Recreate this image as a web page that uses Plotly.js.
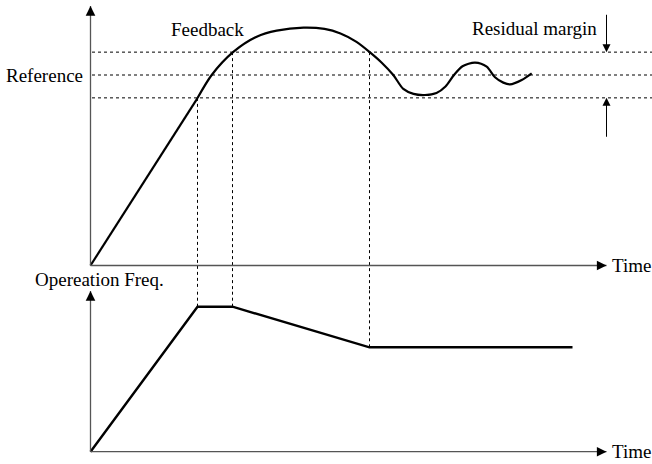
<!DOCTYPE html>
<html>
<head>
<meta charset="utf-8">
<script src="https://cdn.plot.ly/plotly-3.0.1.min.js"></script>
<style>html,body{margin:0;padding:0;background:#fff;}#chart{width:652px;height:464px;}</style>
</head>
<body>
<div id="chart"></div>
<script>
// ---- data (time in arbitrary units, feedback in % of reference, frequency in Hz) ----
const rampTime = [0, 10.7];
const rampFeedback = [0, 87.9];
const curveTime = [10.7, 12.12, 14.28, 16.62, 18.62, 21.3, 23.4, 25.0, 26.6, 27.95, 29.1, 30.28, 31.28, 32.3, 33.45, 34.6, 35.5, 36.35, 37.2, 38.45, 39.62, 40.45, 41.28, 41.95, 43.12, 44.12];
const curveFeedback = [87.9, 100, 112.1, 120.1, 123.3, 124.9, 124.2, 121.8, 117.4, 111.9, 106.6, 100, 92.7, 90.1, 89.5, 90.6, 94.0, 100, 104.6, 106.5, 104.4, 98.8, 96.0, 95.1, 97.4, 100.9];
const freqTime = [0, 10.7, 14.2, 27.9, 48.2];
const freqValue = [0, 50, 50, 36, 36];
const reference = 100;
const bandLevels = [88, 100, 112];
const markTimes = [10.7, 14.2, 27.9];
const markLevels = [88, 112, 112];
const markFreqs = [50, 50, 36];
const axisEndTime = 51.6;
const axisEndFeedback = 136.2;
const axisEndFreq = 55.4;
const marginArrowTails = [132.4, 66.8];
const marginArrowTips = [112, 88];

// ---- layout constants ----
const X_RANGE = [-9.05, 56.15];
const TOP_RANGE = [-12.86, 139.37];
const BOT_RANGE = [-4.24, 55.76];
const SPLIT = 0.375;
const FONT = {family: '"Liberation Serif", "Times New Roman", serif', size: 19, color: '#000'};

const traces = [];
// vertical dashed markers
markTimes.forEach((t, i) => {
  traces.push({x: [t, t], y: [markLevels[i], TOP_RANGE[0]], xaxis: 'x', yaxis: 'y', mode: 'lines',
    line: {color: '#000', width: 1, dash: '3px,3px'}, hoverinfo: 'skip'});
  traces.push({x: [t, t], y: [markFreqs[i], BOT_RANGE[1]], xaxis: 'x', yaxis: 'y2', mode: 'lines',
    line: {color: '#000', width: 1, dash: '3px,3px'}, hoverinfo: 'skip'});
});
// feedback
traces.push({x: rampTime, y: rampFeedback, xaxis: 'x', yaxis: 'y', mode: 'lines', line: {color: '#000', width: 2.2}});
traces.push({x: curveTime, y: curveFeedback, xaxis: 'x', yaxis: 'y', mode: 'lines', line: {color: '#000', width: 2.2, shape: 'spline', smoothing: 0.8}});
// frequency
traces.push({x: freqTime, y: freqValue, xaxis: 'x', yaxis: 'y2', mode: 'lines', line: {color: '#000', width: 2.4}});

const shapes = [];
bandLevels.forEach(v => shapes.push({type: 'line', xref: 'x', yref: 'y', x0: 0.15, x1: X_RANGE[1], y0: v, y1: v,
  line: {color: '#000', width: 1, dash: '3px,3px'}}));
const axisLine = {color: '#555', width: 1.3};
shapes.push({type: 'line', xref: 'x', yref: 'y', x0: 0, x1: 0, y0: 0, y1: axisEndFeedback, line: axisLine});
shapes.push({type: 'line', xref: 'x', yref: 'y', x0: 0, x1: axisEndTime, y0: 0, y1: 0, line: axisLine});
shapes.push({type: 'line', xref: 'x', yref: 'y2', x0: 0, x1: 0, y0: 0, y1: axisEndFreq, line: axisLine});
shapes.push({type: 'line', xref: 'x', yref: 'y2', x0: 0, x1: axisEndTime, y0: 0, y1: 0, line: axisLine});

const head = {showarrow: true, text: '', arrowhead: 2, arrowsize: 1.6, arrowwidth: 1.2, arrowcolor: '#000'};
const annotations = [
  Object.assign({x: 0, y: axisEndFeedback, xref: 'x', yref: 'y', ax: 0, ay: 10}, head),
  Object.assign({x: axisEndTime, y: 0, xref: 'x', yref: 'y', ax: -10, ay: 0}, head),
  Object.assign({x: 0, y: axisEndFreq, xref: 'x', yref: 'y2', ax: 0, ay: 10}, head),
  Object.assign({x: axisEndTime, y: 0, xref: 'x', yref: 'y2', ax: -10, ay: 0}, head),
];
marginArrowTips.forEach((tip, i) => annotations.push({x: axisEndTime, y: tip, xref: 'x', yref: 'y',
  ax: axisEndTime, ay: marginArrowTails[i], axref: 'x', ayref: 'y', showarrow: true, text: '',
  arrowhead: 2, arrowsize: 1.6, arrowwidth: 1, arrowcolor: '#000'}));
annotations.push(
  {text: 'Reference', x: -0.55, y: reference, xref: 'x', yref: 'y', xanchor: 'right', yanchor: 'middle', showarrow: false, font: FONT},
  {text: 'Feedback', x: 11.67, y: 123.9, xref: 'x', yref: 'y', xanchor: 'center', yanchor: 'middle', showarrow: false, font: FONT},
  {text: 'Residual margin', x: 44.4, y: 124.4, xref: 'x', yref: 'y', xanchor: 'center', yanchor: 'middle', showarrow: false, font: FONT},
  {text: 'Time', x: 51.9, y: 0, xref: 'x', yref: 'y', xanchor: 'left', yanchor: 'middle', showarrow: false, font: FONT},
  {text: 'Time', x: 51.9, y: 0, xref: 'x', yref: 'y2', xanchor: 'left', yanchor: 'middle', showarrow: false, font: FONT},
  {text: 'Opereation Freq.', x: -5.8, y: -7.1, xref: 'x', yref: 'y', xanchor: 'left', yanchor: 'middle', showarrow: false, font: FONT}
);

const layout = {
  width: 652, height: 464,
  margin: {l: 0, r: 0, t: 0, b: 0, pad: 0},
  paper_bgcolor: '#fff', plot_bgcolor: '#fff',
  showlegend: false,
  xaxis: {range: X_RANGE, visible: false, anchor: 'y2', fixedrange: true},
  yaxis: {range: TOP_RANGE, domain: [SPLIT, 1], visible: false, fixedrange: true},
  yaxis2: {range: BOT_RANGE, domain: [0, SPLIT], visible: false, fixedrange: true},
  shapes: shapes,
  annotations: annotations
};
Plotly.newPlot('chart', traces, layout, {displayModeBar: false, staticPlot: true});
</script>
</body>
</html>
